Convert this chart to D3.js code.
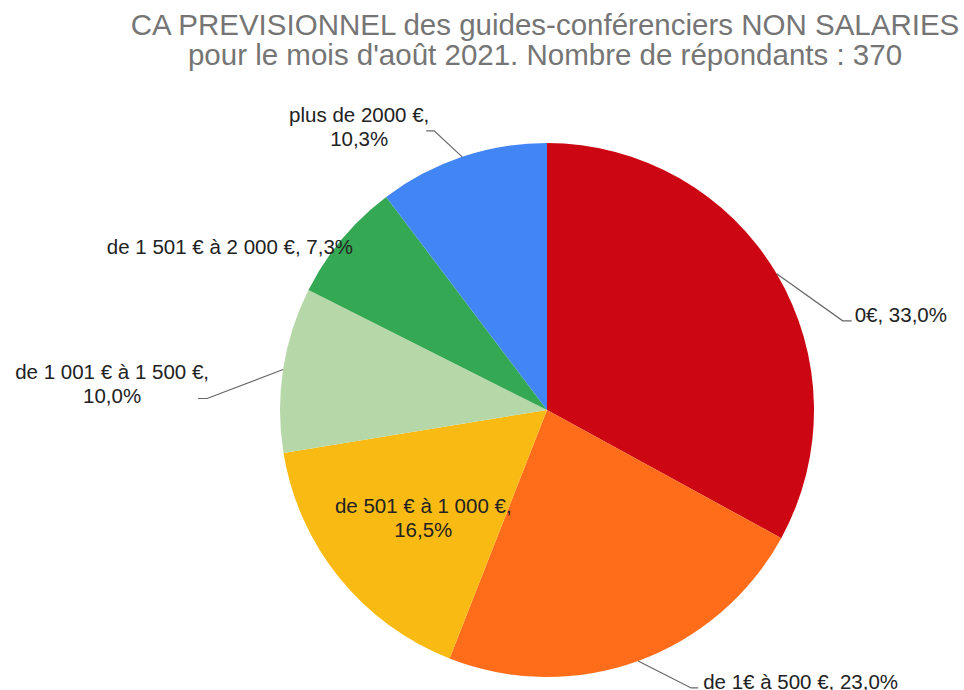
<!DOCTYPE html>
<html>
<head>
<meta charset="utf-8">
<script src="https://cdn.jsdelivr.net/npm/d3@7"></script>
<style>
  body { margin: 0; background: #fff; }
  text { font-family: "Liberation Sans", Arial, sans-serif; }
</style>
</head>
<body>
<svg id="chart" width="964" height="690"></svg>
<script>
var categories = ["0€", "de 1€ à 500 €", "de 501 € à 1 000 €", "de 1 001 € à 1 500 €", "de 1 501 € à 2 000 €", "plus de 2000 €"];
var percents = [33.0, 23.0, 16.5, 10.0, 7.3, 10.3];
var colors = ["#cc0612", "#ff6d1b", "#f9bb13", "#b6d7a8", "#34a853", "#4285f4"];
var titleLines = ["CA PREVISIONNEL des guides-conférenciers NON SALARIES", "pour le mois d'août 2021. Nombre de répondants : 370"];

var width = 964, height = 690;
var cx = 547, cy = 410, radius = 267;

var svg = d3.select("#chart");

svg.selectAll("text.title")
    .data(titleLines)
  .enter().append("text")
    .attr("class", "title")
    .attr("x", 545)
    .attr("y", function(d, i) { return 35 + i * 30; })
    .attr("text-anchor", "middle")
    .attr("fill", "#757575")
    .attr("font-size", "29.5px")
    .text(function(d) { return d; });

var pie = d3.pie().sort(null).value(function(d) { return d; });
var arcs = pie(percents);
var arc = d3.arc().innerRadius(0).outerRadius(radius);

var g = svg.append("g").attr("transform", "translate(" + cx + "," + cy + ")");

g.selectAll("path")
    .data(arcs)
  .enter().append("path")
    .attr("d", arc)
    .attr("fill", function(d, i) { return colors[i]; });

function fmt(v) { return v.toFixed(1).replace(".", ",") + "%"; }

// point on the rim at the middle of a slice
function rim(d, r) {
    var a = (d.startAngle + d.endAngle) / 2;
    return [Math.sin(a) * r, -Math.cos(a) * r];
}

// label layout: how each label sits relative to its slice
var layout = [
    {lines: 1, leader: true,  elbow: [66, 47],  tail: 9,  anchor: "start",  dx: 12, dy: 1},
    {lines: 1, leader: true,  elbow: [53, 27],  tail: 7,  anchor: "start",  dx: 12, dy: 1},
    {lines: 2, leader: false, inner: 0.615,      anchor: "middle", dx: 4,  dy: 0},
    {lines: 2, leader: true,  elbow: [-76, 29], tail: -9, anchor: "middle", dx: -95, dy: -20},
    {lines: 1, leader: false, inner: 1.0,        anchor: "middle", dx: -112, dy: 15},
    {lines: 2, leader: true,  elbow: [-28, -26], tail: -8, anchor: "middle", dx: -75, dy: -9}
];

var lab = g.append("g");

arcs.forEach(function(d, i) {
    var L = layout[i];
    var label = categories[i] + ", " + fmt(percents[i]);
    var p, tx, ty;
    if (L.leader) {
        p = rim(d, radius);
        var e = [p[0] + L.elbow[0], p[1] + L.elbow[1]];
        var t = [e[0] + L.tail, e[1]];
        lab.append("path")
            .attr("d", d3.line()([p, e, t]))
            .attr("fill", "none")
            .attr("stroke", "#666")
            .attr("stroke-width", 1.2);
        tx = e[0] + L.dx; ty = e[1] + L.dy;
    } else {
        p = rim(d, radius * L.inner);
        tx = p[0] + L.dx; ty = p[1] + L.dy;
    }
    var text = lab.append("text")
        .attr("x", tx)
        .attr("y", ty)
        .attr("text-anchor", L.anchor)
        .attr("fill", "#222")
        .attr("font-size", "20.5px");
    var parts = L.lines == 2 ? [categories[i] + ",", fmt(percents[i])] : [label];
    parts.forEach(function(s, k) {
        text.append("tspan")
            .attr("x", tx)
            .attr("dy", k == 0 ? 0 : 24)
            .text(s);
    });
});
</script>
</body>
</html>
